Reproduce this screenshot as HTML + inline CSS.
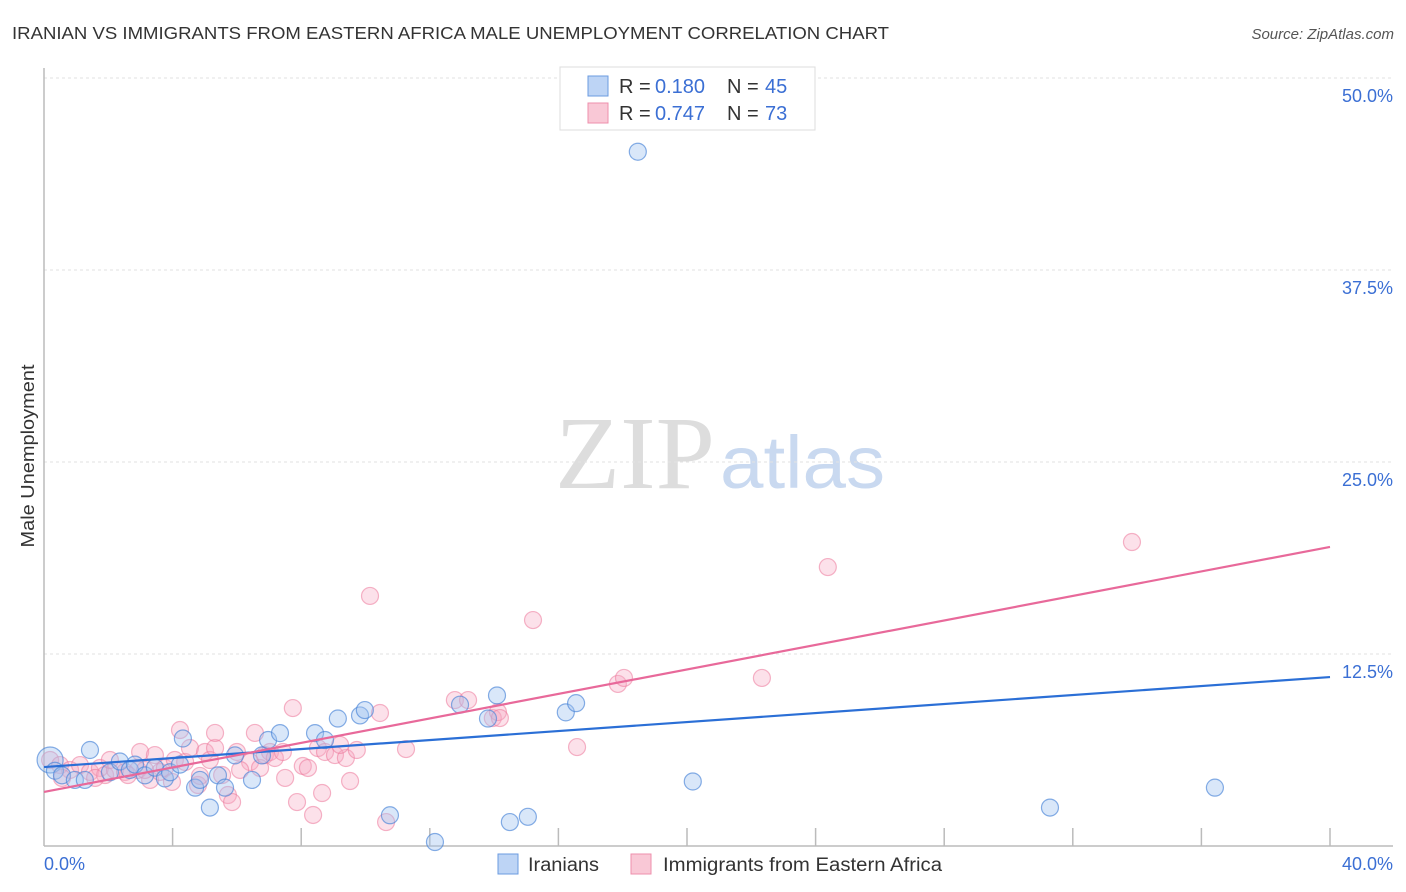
<!DOCTYPE html>
<html><head><meta charset="utf-8"><style>
body{margin:0;background:#fff;font-family:"Liberation Sans",sans-serif;}
#wrap{position:relative;width:1406px;height:892px;overflow:hidden;}
</style></head><body>
<div id="wrap">
<svg id="svg" width="1406" height="892" xmlns="http://www.w3.org/2000/svg">
<text x="12" y="39" font-size="17.5" fill="#333" textLength="877" lengthAdjust="spacingAndGlyphs">IRANIAN VS IMMIGRANTS FROM EASTERN AFRICA MALE UNEMPLOYMENT CORRELATION CHART</text>
<text x="1394" y="39" font-size="15" fill="#555" text-anchor="end" font-style="italic">Source: ZipAtlas.com</text>
<text x="555" y="488" font-size="104" fill="#ddd" textLength="160" lengthAdjust="spacingAndGlyphs" font-family="Liberation Serif, serif">ZIP</text>
<text x="720" y="488" font-size="74" fill="#c9d9f0" textLength="165" lengthAdjust="spacingAndGlyphs">atlas</text>
<text transform="translate(34,456) rotate(-90)" font-size="18" fill="#333" text-anchor="middle" textLength="183" lengthAdjust="spacingAndGlyphs">Male Unemployment</text>
<g id="grid"></g><g id="marks"></g>
<g>
<rect x="560" y="67" width="255" height="63" fill="#fff" stroke="#ddd"/>
<rect x="588" y="76" width="20" height="20" fill="#bdd4f5" stroke="#6b9be0"/>
<rect x="588" y="103" width="20" height="20" fill="#f9c8d6" stroke="#ee8fac"/>
<text y="93" font-size="20" fill="#333"><tspan x="619">R =</tspan><tspan x="655" fill="#3b6fd4">0.180</tspan><tspan x="727">N =</tspan><tspan x="765" fill="#3b6fd4">45</tspan></text>
<text y="120" font-size="20" fill="#333"><tspan x="619">R =</tspan><tspan x="655" fill="#3b6fd4">0.747</tspan><tspan x="727">N =</tspan><tspan x="765" fill="#3b6fd4">73</tspan></text>
</g>
<g>
<rect x="498" y="854" width="20" height="20" fill="#bdd4f5" stroke="#6b9be0"/>
<text x="528" y="871" font-size="19" fill="#333" textLength="71" lengthAdjust="spacingAndGlyphs">Iranians</text>
<rect x="631" y="854" width="20" height="20" fill="#f9c8d6" stroke="#ee8fac"/>
<text x="663" y="871" font-size="19" fill="#333" textLength="279" lengthAdjust="spacingAndGlyphs">Immigrants from Eastern Africa</text>
</g>
</svg></div>
<script>
const yTicks=[12.5,25,37.5,50];
const yTickLabels=["12.5%","25.0%","37.5%","50.0%"];
const xTicks=[0,4,8,12,16,20,24,28,32,36,40];
const blueX=[0.19,0.34,0.56,0.96,1.27,1.43,2.05,2.36,2.67,2.83,3.14,3.45,3.76,3.92,4.23,4.32,4.70,4.85,5.16,5.41,5.63,5.94,6.47,6.78,6.97,7.34,8.43,8.74,9.14,9.83,9.98,10.76,12.16,12.94,13.81,14.09,14.49,15.05,16.23,16.55,18.47,20.18,31.29,36.42];
const blueY=[5.6,4.9,4.6,4.3,4.3,6.25,4.8,5.5,4.95,5.3,4.6,5.1,4.4,4.8,5.3,7.0,3.8,4.3,2.5,4.6,3.8,5.9,4.3,5.9,6.9,7.35,7.35,6.9,8.3,8.5,8.85,2.0,0.26,9.2,8.3,9.8,1.56,1.9,8.7,9.3,45.2,4.2,2.5,3.8];
const pinkX=[0.19,0.50,0.81,1.12,1.43,1.74,1.90,2.21,2.52,2.92,2.99,3.30,3.45,3.61,3.76,3.98,4.07,4.23,4.39,4.54,4.79,4.85,5.01,5.16,5.32,5.32,5.54,5.72,5.85,6.00,6.41,6.56,6.72,6.87,7.03,7.18,7.43,7.50,7.74,7.87,8.05,8.21,8.37,8.52,8.65,8.74,9.05,9.39,9.52,9.73,10.14,10.45,10.64,11.26,12.78,13.19,13.96,14.12,14.18,15.21,16.58,17.85,18.04,22.33,24.38,33.84,2.05,2.61,3.14,6.10,9.21,0.56,1.59];
const pinkY=[5.6,5.27,4.95,5.27,4.82,5.08,4.62,4.95,4.82,4.95,6.12,4.3,5.92,4.82,5.08,4.17,5.6,7.55,5.47,6.38,3.97,4.56,6.12,5.6,6.38,7.36,4.62,3.32,2.86,6.12,5.47,7.36,5.08,5.92,6.12,5.73,6.12,4.43,8.98,2.86,5.21,5.08,2.02,6.38,3.45,6.12,5.92,5.73,4.23,6.25,16.28,8.66,1.56,6.31,9.5,9.5,8.33,8.72,8.33,14.71,6.44,10.55,10.94,10.94,18.16,19.79,5.6,4.62,4.95,4.95,6.58,4.43,4.43];
const blueTrend=[5.14,11.0];
const pinkTrend=[3.52,19.47];
const X=v=>44+v/40*1286, Y=v=>846-v/12.5*192;
const NS="http://www.w3.org/2000/svg";
function mk(tag,attrs,parent){const e=document.createElementNS(NS,tag);for(const k in attrs)e.setAttribute(k,attrs[k]);parent.appendChild(e);return e;}
const grid=document.getElementById('grid'),marks=document.getElementById('marks');
yTicks.forEach((t,i)=>{
 const l=mk('line',{x1:44,x2:1393,y1:Y(t),y2:Y(t),stroke:'#e2e2e2','stroke-dasharray':'3,3'},grid);
 
 
 const tx=mk('text',{x:1393,y:Y(t)+24,'font-size':18,fill:'#3b6fd4','text-anchor':'end'},grid);
 tx.textContent=yTickLabels[i];
 
 
});
const ax=mk('line',{x1:44,x2:1393,y1:846,y2:846,stroke:'#bbb','stroke-width':1.5},grid);


const ay=mk('line',{x1:44,x2:44,y1:68,y2:846,stroke:'#bbb','stroke-width':1.5},grid);


xTicks.forEach(t=>{if(t===0)return;
 const l=mk('line',{x1:X(t),x2:X(t),y1:828,y2:846,stroke:'#bbb','stroke-width':1.5},grid);
 
 
});
const xl0=mk('text',{x:44,y:870,'font-size':18,fill:'#3b6fd4'},grid);xl0.textContent='0.0%';


const xl1=mk('text',{x:1393,y:870,'font-size':18,fill:'#3b6fd4','text-anchor':'end'},grid);xl1.textContent='40.0%';


pinkX.forEach((x,i)=>{
 const c=mk('circle',{cx:X(x),cy:Y(pinkY[i]),r:8.5,fill:'rgba(246,170,195,0.35)',stroke:'rgba(236,120,155,0.55)','stroke-width':1.2},marks);
 
 
});
blueX.forEach((x,i)=>{
 const c=mk('circle',{cx:X(x),cy:Y(blueY[i]),r:i===0?13:8.5,fill:'rgba(160,195,240,0.4)',stroke:'rgba(70,130,215,0.65)','stroke-width':1.2},marks);
 
 
});
const tb=mk('line',{x1:X(0),x2:X(40),y1:Y(blueTrend[0]),y2:Y(blueTrend[1]),stroke:'#2b6fd6','stroke-width':2.2},marks);


const tp=mk('line',{x1:X(0),x2:X(40),y1:Y(pinkTrend[0]),y2:Y(pinkTrend[1]),stroke:'#e8699a','stroke-width':2.2},marks);


</script>
</body></html>
